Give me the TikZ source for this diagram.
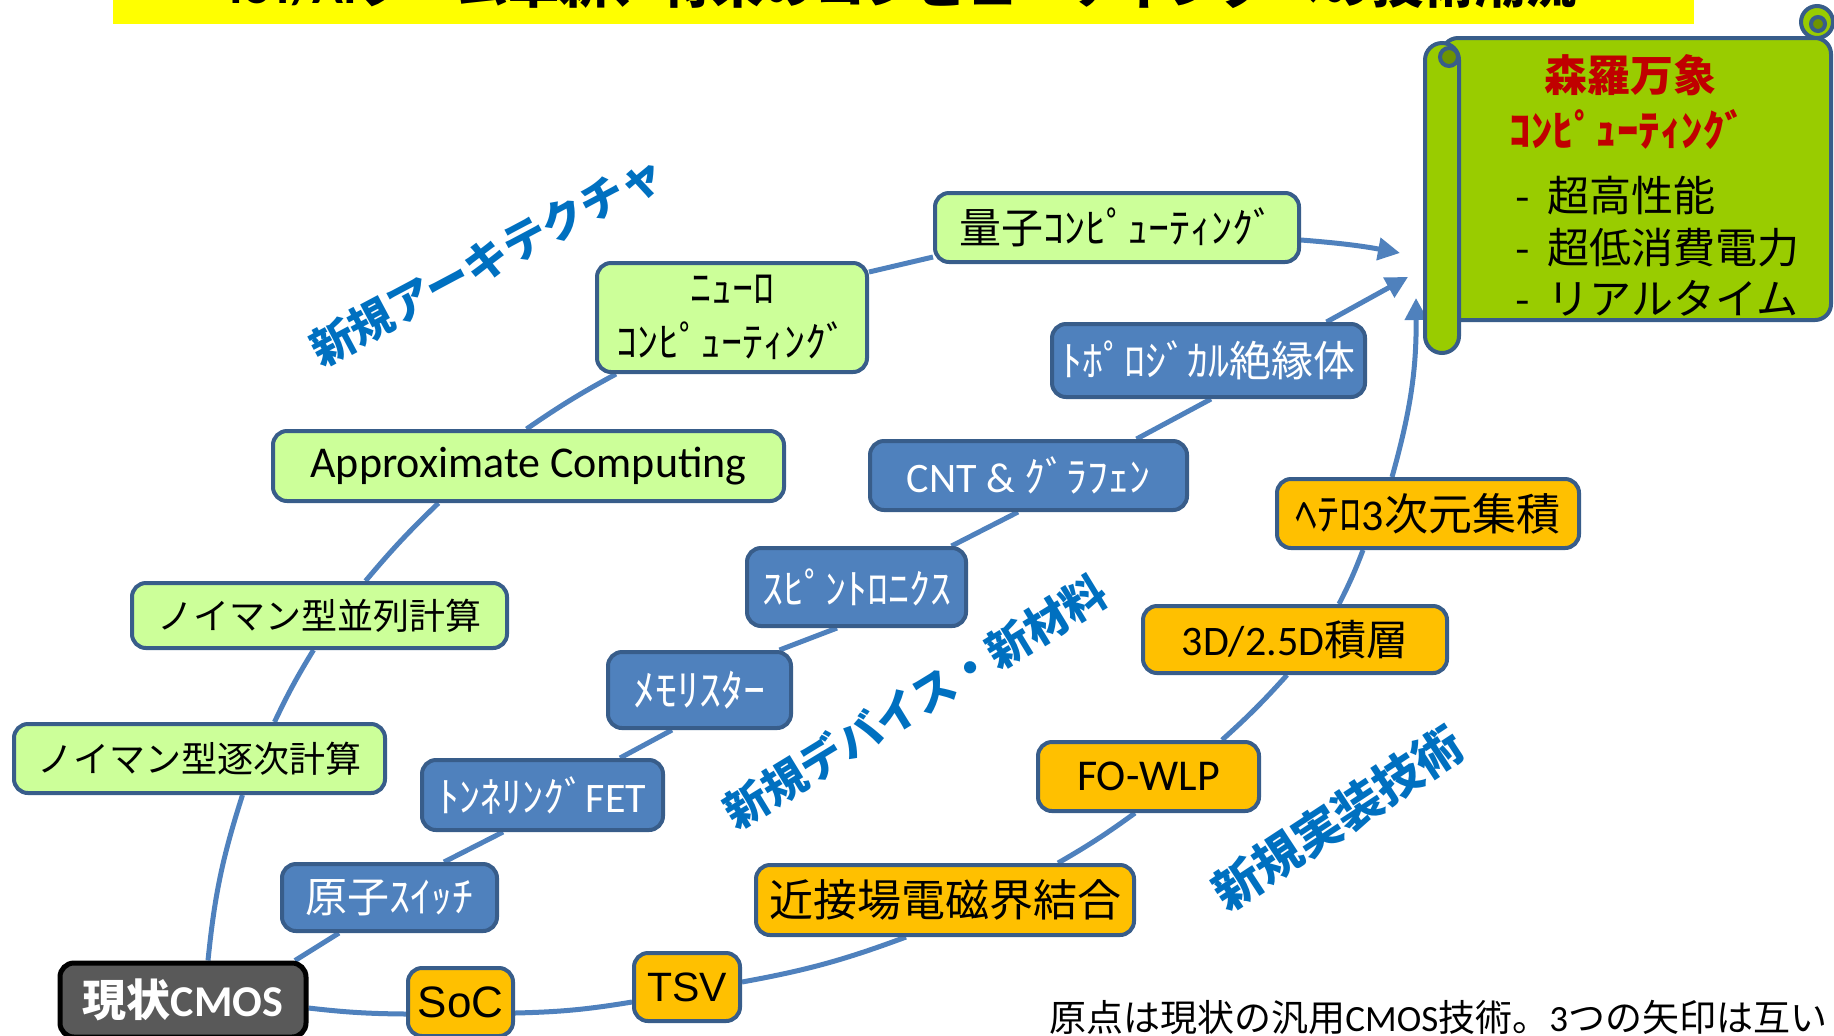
\documentclass[tikz,border=0pt]{standalone}
\usepackage{fontspec}
\setmainfont{Carlito}
\newfontfamily\jp{Noto Sans CJK JP}
\newfontfamily\lat{Carlito}
\newfontfamily\ar{Liberation Sans}
\usetikzlibrary{arrows.meta,calc}
\definecolor{lineblue}{HTML}{4F81BD}
\definecolor{bdr}{HTML}{385D8A}
\definecolor{archfill}{HTML}{CCFF99}
\definecolor{devfill}{HTML}{4F81BD}
\definecolor{pkgfill}{HTML}{FFC000}
\definecolor{cmosfill}{HTML}{595959}
\definecolor{scrollfill}{HTML}{99CC00}
\definecolor{scrolldark}{HTML}{6E9400}
\definecolor{labblue}{HTML}{0070C0}
\definecolor{titlered}{HTML}{C00000}
\definecolor{titleyellow}{HTML}{FFFF00}
\pgfdeclarelayer{bg}
\pgfsetlayers{bg,main}
\begin{document}
\begin{tikzpicture}[x=0.5pt,y=-0.5pt,
  box/.style={draw=bdr, line width=2pt, rounded corners=7pt, inner sep=0pt, align=center,
    font=\jp\fontsize{21}{25}\selectfont},
  arch/.style={box, fill=archfill, text=black},
  dev/.style={box, fill=devfill, text=white},
  pkg/.style={box, fill=pkgfill, text=black},
  conn/.style={draw=lineblue, line width=2.5pt},
  arr/.style={conn, -{Triangle[length=11pt,width=11pt]}},
  lab/.style={text=labblue, inner sep=0pt},
  scroll/.style={fill=scrollfill, draw=bdr, line width=2pt},
  curl/.style={fill=scrolldark, draw=bdr, line width=2pt}]
\useasboundingbox (0,0) rectangle (1834,1035);

% title band (cut off at the top)
\begin{scope}
  \clip (113,0) rectangle (1694,24);
  \fill[titleyellow] (113,0) rectangle (1694,24);
  \node[anchor=base, inner sep=0pt, font=\jp\bfseries\fontsize{25.5}{30}\selectfont] (title) at (903,3)
    {{\lat IoT/AI}ブーム革新、将来のコンピューティングへの技術潮流};
\end{scope}

% scroll
\draw[scroll] (1817,22) circle[radius=16];
\draw[curl] (1818,24) circle[radius=7];
\draw[scroll, rounded corners=8pt] (1442,38) -- (1831,38) -- (1831,320) -- (1442,320) -- cycle;
\draw[scroll, rounded corners=8.5pt] (1425,43) rectangle (1459,353);
\draw[curl] (1449,57) circle[radius=9];
\node[text=titlered, inner sep=0pt, font=\jp\bfseries\fontsize{21.5}{26}\selectfont] (s1) at (1630,75) {森羅万象};
\node[text=titlered, inner sep=0pt, font=\jp\bfseries\fontsize{21.5}{26}\selectfont] (s2) at (1628,130) {ｺﾝﾋﾟｭｰﾃｨﾝｸﾞ};
\node[anchor=west, inner sep=0pt, font=\jp\fontsize{21}{25}\selectfont] (b1) at (1515,196) {\makebox[16pt][l]{-}超高性能};
\node[anchor=west, inner sep=0pt, font=\jp\fontsize{21}{25}\selectfont] (b2) at (1515,248) {\makebox[16pt][l]{-}超低消費電力};
\node[anchor=west, inner sep=0pt, font=\jp\fontsize{21}{25}\selectfont] (b3) at (1515,298) {\makebox[16pt][l]{-}リアルタイム};

% architecture nodes
\node[arch, minimum width=182pt, minimum height=34.5pt] (quantum) at (1117,227.5) {量子ｺﾝﾋﾟｭｰﾃｨﾝｸﾞ};
\node[arch, minimum width=135pt, minimum height=54.5pt, font=\jp\fontsize{21}{27}\selectfont] (neuro) at (732,317.5) {ﾆｭｰﾛ\\ｺﾝﾋﾟｭｰﾃｨﾝｸﾞ};
\node[arch, minimum width=255.5pt, minimum height=35pt, font=\lat\fontsize{22}{26}\selectfont] (approx) at (528.5,466) {Approximate Computing};
\node[arch, minimum width=187.5pt, minimum height=32.5pt, font=\jp\fontsize{18}{22}\selectfont] (par) at (319.5,615.5) {ノイマン型並列計算};
\node[arch, minimum width=185.5pt, minimum height=34.5pt, font=\jp\fontsize{18}{22}\selectfont] (seq) at (199.5,758.5) {ノイマン型逐次計算};

% device nodes
\node[dev, minimum width=156.5pt, minimum height=36.5pt] (topo) at (1208.5,360.5) {ﾄﾎﾟﾛｼﾞｶﾙ絶縁体};
\node[dev, minimum width=158.5pt, minimum height=34.5pt] (cnt) at (1028.5,475.5) {{\lat CNT \& }ｸﾞﾗﾌｪﾝ};
\node[dev, minimum width=109.5pt, minimum height=39pt] (spin) at (856.5,587) {ｽﾋﾟﾝﾄﾛﾆｸｽ};
\node[dev, minimum width=91.5pt, minimum height=38pt, font=\jp\fontsize{22}{26}\selectfont] (memr) at (699.5,690) {ﾒﾓﾘｽﾀｰ};
\node[dev, minimum width=120.5pt, minimum height=35pt] (tfet) at (542.5,795) {ﾄﾝﾈﾘﾝｸﾞ{\lat FET}};
\node[dev, minimum width=107.5pt, minimum height=33.5pt] (atom) at (389.5,897.5) {原子ｽｲｯﾁ};

% packaging nodes
\node[pkg, minimum width=151pt, minimum height=34.5pt, font=\jp\fontsize{22}{26}\selectfont] (hetero) at (1428,513.5) {ﾍﾃﾛ{\lat 3}次元集積};
\node[pkg, minimum width=152pt, minimum height=33.5pt] (d3) at (1295,639.5) {{\lat 3D/2.5D}積層};
\node[pkg, minimum width=110.5pt, minimum height=34.5pt, font=\lat\fontsize{22}{26}\selectfont] (fowlp) at (1148.5,776.5) {FO-WLP};
\node[pkg, minimum width=189pt, minimum height=35pt, font=\jp\fontsize{22}{26}\selectfont] (near) at (945,900) {近接場電磁界結合};
\node[pkg, minimum width=53pt, minimum height=34pt, font=\ar\fontsize{20.5}{24}\selectfont] (tsv) at (687,987) {TSV};
\node[pkg, minimum width=52.5pt, minimum height=34pt, font=\ar\fontsize{22}{26}\selectfont] (soc) at (460.5,1002) {SoC};

% origin
\node[box, fill=cmosfill, draw=black, line width=2.5pt, text=white, minimum width=123pt, minimum height=37pt,
  font=\jp\bfseries\fontsize{22}{26}\selectfont] (cmos) at (183,1000) {現状{\lat\bfseries CMOS}};

% diagonal labels
\node[lab, rotate=28, font=\jp\bfseries\fontsize{22}{26}\selectfont] (L1) at (487,260.5) {新規アーキテクチャ};
\node[lab, rotate=31.4, font=\jp\bfseries\fontsize{22}{26}\selectfont] (L2) at (915,701.5) {新規デバイス・新材料};
\node[lab, rotate=33.3, font=\jp\bfseries\fontsize{24}{28}\selectfont] (L3) at (1337.5,818) {新規実装技術};

% bottom note (cut at the right edge)
\node[anchor=west, inner sep=0pt, font=\jp\fontsize{18.5}{22}\selectfont] (note) at (1049,1017)
  {原点は現状の汎用{\lat CMOS}技術。{\lat 3}つの矢印は互い};

% arrow tips
\coordinate (tipA) at (1400,253);
\coordinate (tipB) at (1408,277);
\coordinate (tipC) at (1416,298);

\begin{pgfonlayer}{bg}
% architecture path
\draw[conn] ($(cmos.north)+(25,0)$) to[bend left=6] ($(seq.south)+(43,0)$);
\draw[conn] ($(seq.north)+(75,0)$) to[bend left=3] ($(par.south)+(-6,0)$);
\draw[conn] ($(par.north)+(46,0)$) to[bend left=3] ($(approx.south)+(-90,0)$);
\draw[conn] ($(approx.north)+(-2,0)$) to[bend left=3] ($(neuro.south)+(-116,0)$);
\draw[conn] ($(neuro.east)+(0,-45.5)$) -- ($(quantum.west)+(0,29.5)$);
\draw[arr] ($(quantum.east)+(0,12.5)$) to[bend left=3] (tipA);
% device path
\draw[conn] ($(cmos.north)+(112,0)$) -- ($(atom.south)+(-50.5,0)$);
\draw[conn] ($(atom.north)+(54.5,0)$) -- ($(tfet.south)+(-39.5,0)$);
\draw[conn] ($(tfet.north)+(77.5,0)$) -- ($(memr.south)+(-27.5,0)$);
\draw[conn] ($(memr.north)+(80,0)$) -- ($(spin.south)+(-19.5,0)$);
\draw[conn] ($(spin.north)+(95,0)$) -- ($(cnt.south)+(-10.5,0)$);
\draw[conn] ($(cnt.north)+(108,0)$) -- ($(topo.south)+(2.5,0)$);
\draw[arr] ($(topo.north)+(118,0)$) -- (tipB);
% packaging path
\draw[conn] ($(cmos.east)+(0,8)$) to[bend right=3] ($(soc.west)+(0,12)$);
\draw[conn] ($(soc.east)+(0,11)$) to[bend right=4] ($(tsv.west)+(0,15)$);
\draw[conn] ($(tsv.east)+(0,-5)$) to[bend right=5] ($(near.south)+(-39,0)$);
\draw[conn] ($(near.north)+(113,0)$) to[bend right=3] ($(fowlp.south)+(-13.5,0)$);
\draw[conn] ($(fowlp.north)+(73.5,0)$) to[bend right=3] ($(d3.south)+(-8,0)$);
\draw[conn] ($(d3.north)+(44,0)$) to[bend right=3] ($(hetero.south)+(-65,0)$);
\draw[arr] ($(hetero.north)+(-36,0)$) to[bend right=8] (tipC);
\end{pgfonlayer}
\end{tikzpicture}
\end{document}
